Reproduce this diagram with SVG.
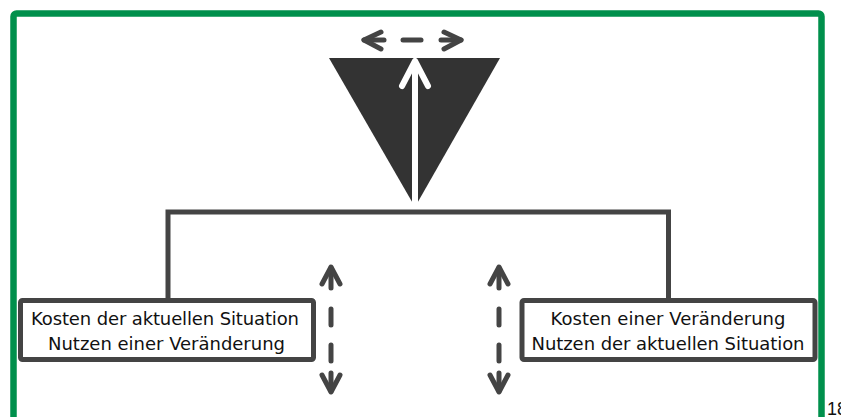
<svg xmlns="http://www.w3.org/2000/svg" width="841" height="417" viewBox="0 0 841 417">
<style>
.ln{fill:none;stroke:#444444;stroke-width:5}
.ar{fill:none;stroke:#444444;stroke-width:5;stroke-linecap:round;stroke-linejoin:round}
.box{fill:#ffffff;stroke:#444444;stroke-width:5}
.t{font-family:"DejaVu Sans",sans-serif;font-size:18px;fill:#111111;text-anchor:middle}
</style>
<rect x="13.5" y="13.5" width="808" height="420" rx="3" fill="none" stroke="#00904C" stroke-width="6.5"/>
<text x="827" y="415" font-family="Liberation Sans, Arial, sans-serif" font-size="18" fill="#111111">18</text>
<g id="triangle">
<polygon points="329,58 500,58 415,207" fill="#333333"/>
<line x1="415" y1="210" x2="415" y2="62" stroke="#ffffff" stroke-width="6"/>
<polyline points="402,86 415,61 428,86" fill="none" stroke="#ffffff" stroke-width="6" stroke-linecap="round" stroke-linejoin="round"/>
</g>
<g id="connectors">
<polyline class="ln" points="168,300 168,212 668.5,212 668.5,300"/>
<g id="top-arrow">
<line class="ar" x1="364" y1="40" x2="384" y2="40"/>
<line class="ar" x1="403" y1="40" x2="421" y2="40"/>
<line class="ar" x1="441" y1="40" x2="461" y2="40"/>
<polyline class="ar" points="381,32 364,40 381,49"/>
<polyline class="ar" points="444,32 461,40 444,49"/>
</g>
<g id="left-arrow">
<line class="ar" x1="331" y1="268" x2="331" y2="288"/>
<line class="ar" x1="331" y1="309" x2="331" y2="325"/>
<line class="ar" x1="331" y1="345" x2="331" y2="361"/>
<line class="ar" x1="331" y1="373" x2="331" y2="391"/>
<polyline class="ar" points="322,284 331,267 340,284"/>
<polyline class="ar" points="322,375 331,392 340,375"/>
</g>
<g id="right-arrow">
<line class="ar" x1="499" y1="268" x2="499" y2="288"/>
<line class="ar" x1="499" y1="309" x2="499" y2="325"/>
<line class="ar" x1="499" y1="345" x2="499" y2="361"/>
<line class="ar" x1="499" y1="373" x2="499" y2="391"/>
<polyline class="ar" points="490,284 499,267 508,284"/>
<polyline class="ar" points="490,375 499,392 508,375"/>
</g>
</g>
<g id="box-left">
<rect class="box" x="20.5" y="300.5" width="293" height="59" rx="2"/>
<text class="t" x="165" y="325" textLength="268">Kosten der aktuellen Situation</text>
<text class="t" x="166.5" y="350" textLength="237">Nutzen einer Veränderung</text>
</g>
<g id="box-right">
<rect class="box" x="522" y="300.5" width="293" height="59" rx="2"/>
<text class="t" x="668" y="325" textLength="235">Kosten einer Veränderung</text>
<text class="t" x="668" y="350" textLength="273">Nutzen der aktuellen Situation</text>
</g>
</svg>
